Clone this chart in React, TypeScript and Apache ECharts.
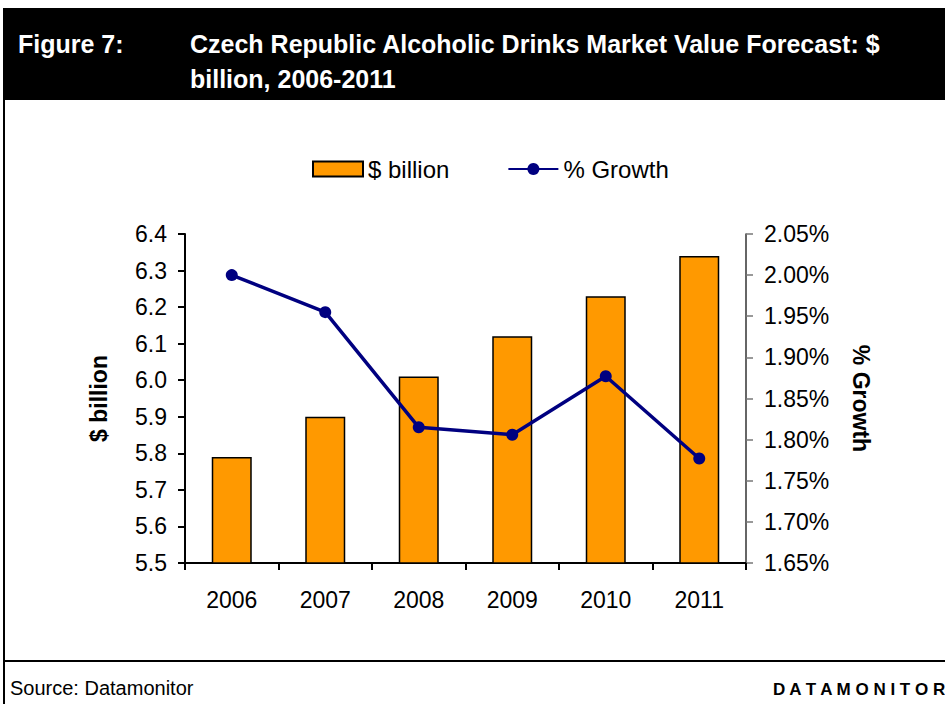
import React, { useEffect, useRef } from "react";
import * as echarts from "echarts";

const categories = ["2006", "2007", "2008", "2009", "2010", "2011"];
const billionValues = [5.79, 5.9, 6.01, 6.12, 6.23, 6.34];
const growthValues = [2.0, 1.955, 1.815, 1.806, 1.877, 1.777];
const seriesNames = ["$ billion", "% Growth"];

const FONT = "Arial, 'Liberation Sans', Helvetica, sans-serif";

export default function App() {
  const ref = useRef<HTMLDivElement>(null);
  useEffect(() => {
    if (!ref.current) return;
    const chart = echarts.init(ref.current, null, { renderer: "svg" });
    chart.setOption({
      animation: false,
      backgroundColor: "#ffffff",
      textStyle: { fontFamily: FONT },
      graphic: [
        { type: "rect", shape: { x: 3, y: 8, width: 942, height: 92 }, style: { fill: "#000000" } },
        { type: "text", x: 18, y: 31, style: { text: "Figure 7:", fill: "#ffffff", font: `bold 25px ${FONT}` } },
        { type: "text", x: 190, y: 31, style: { text: "Czech Republic Alcoholic Drinks Market Value Forecast: $", fill: "#ffffff", font: `bold 25px ${FONT}` } },
        { type: "text", x: 190, y: 66, style: { text: "billion, 2006-2011", fill: "#ffffff", font: `bold 25px ${FONT}` } },
        { type: "line", shape: { x1: 4, y1: 100, x2: 4, y2: 704 }, style: { stroke: "#000000", lineWidth: 2 } },
        { type: "line", shape: { x1: 3, y1: 661, x2: 945, y2: 661 }, style: { stroke: "#000000", lineWidth: 2 } },
        { type: "text", x: 10, y: 678, style: { text: "Source: Datamonitor", fill: "#000000", font: `20px ${FONT}` } },
        { type: "text", x: 773, y: 681, style: { text: "D A T A M O N I T O R", fill: "#000000", font: `bold 17px ${FONT}` } },
      ],
      legend: {
        left: 307,
        top: 152,
        itemGap: 58,
        itemWidth: 50,
        itemHeight: 15,
        textStyle: { fontSize: 24, color: "#000000", fontFamily: FONT },
        data: [
          { name: seriesNames[0], icon: "rect" },
          { name: seriesNames[1] },
        ],
      },
      grid: { left: 185, right: 199, top: 234, bottom: 141, containLabel: false },
      xAxis: {
        type: "category",
        data: categories,
        boundaryGap: true,
        axisLine: { lineStyle: { color: "#000000", width: 2 } },
        axisTick: { show: true, length: 7, lineStyle: { color: "#000000", width: 2 } },
        axisLabel: { fontSize: 23, color: "#000000", margin: 25, fontFamily: FONT },
      },
      yAxis: [
        {
          type: "value",
          min: 5.5,
          max: 6.4,
          interval: 0.1,
          name: "$ billion",
          nameLocation: "middle",
          nameGap: 75,
          nameRotate: 90,
          nameTextStyle: { fontSize: 23, fontWeight: "bold", color: "#000000", fontFamily: FONT },
          axisLine: { show: true, lineStyle: { color: "#000000", width: 2 } },
          axisTick: { show: true, length: 7, lineStyle: { color: "#000000", width: 2 } },
          axisLabel: { fontSize: 23, color: "#000000", margin: 18, fontFamily: FONT, formatter: (v: number) => v.toFixed(1) },
          splitLine: { show: false },
        },
        {
          type: "value",
          min: 1.65,
          max: 2.05,
          interval: 0.05,
          name: "% Growth",
          nameLocation: "middle",
          nameGap: 103,
          nameRotate: -90,
          nameTextStyle: { fontSize: 23, fontWeight: "bold", color: "#000000", fontFamily: FONT },
          axisLine: { show: true, lineStyle: { color: "#333333", width: 1.5 } },
          axisTick: { show: true, length: 7, lineStyle: { color: "#777777", width: 1.5 } },
          axisLabel: { fontSize: 23, color: "#000000", margin: 18, fontFamily: FONT, formatter: (v: number) => v.toFixed(2) + "%" },
          splitLine: { show: false },
        },
      ],
      series: [
        {
          name: seriesNames[0],
          type: "bar",
          yAxisIndex: 0,
          data: billionValues,
          barWidth: 40,
          itemStyle: { color: "#FF9900", borderColor: "#000000", borderWidth: 1.5 },
        },
        {
          name: seriesNames[1],
          type: "line",
          yAxisIndex: 1,
          data: growthValues,
          symbol: "circle",
          symbolSize: 12,
          lineStyle: { color: "#000080", width: 3.5 },
          itemStyle: { color: "#000080" },
        },
      ],
    });
    return () => chart.dispose();
  }, []);
  return <div ref={ref} style={{ position: "fixed", left: 0, top: 0, width: 945, height: 704 }} />;
}
